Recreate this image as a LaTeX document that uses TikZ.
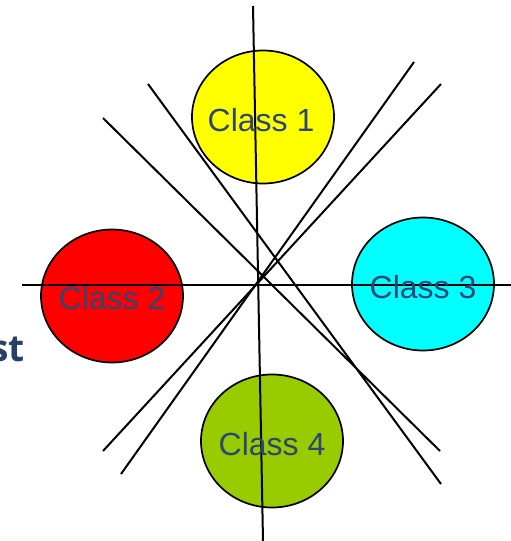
\documentclass[tikz,border=0pt]{standalone}
\usepackage{fontspec}
\setmainfont{Liberation Sans}
\newfontfamily\headfont{Open Sans}
\usetikzlibrary{shapes.geometric}
\definecolor{labelblue}{RGB}{44,70,118}
\definecolor{headblue}{RGB}{38,64,102}
\definecolor{leafgreen}{RGB}{153,204,0}
\definecolor{pureyellow}{RGB}{255,255,0}
\definecolor{purered}{RGB}{255,0,0}
\definecolor{purecyan}{RGB}{0,255,255}
\tikzset{
  classblob/.style={ellipse, draw=black, line width=1.7pt, inner sep=0pt,
    minimum width=142pt, minimum height=133pt},
  classlabel/.style={inner sep=0pt, text=labelblue,
    font=\fontsize{32}{32}\selectfont},
  divider/.style={line width=2pt, black}
}
\begin{document}
\begin{tikzpicture}[x=1pt,y=-1pt]
\useasboundingbox (0,0) rectangle (511,541);

% the four classes
\node[classblob, fill=pureyellow] (c1) at (263,117) {};
\node[classblob, fill=purered] (c2) at (112,296) {};
\node[classblob, fill=purecyan] (c3) at (423,284) {};
\node[classblob, fill=leafgreen] (c4) at (272,441) {};

% end points of the separating lines
\coordinate (v1) at (253,6);   \coordinate (v2) at (263,541);
\coordinate (h1) at (22,285);  \coordinate (h2) at (511,285);
\coordinate (a1) at (148,84);  \coordinate (a2) at (441,484);
\coordinate (b1) at (103,118); \coordinate (b2) at (440,451);
\coordinate (p1) at (414,62);  \coordinate (p2) at (121,474);
\coordinate (q1) at (441,84);  \coordinate (q2) at (103,451);

\draw[divider] (v1) -- (v2);
\draw[divider] (h1) -- (h2);
\draw[divider] (a1) -- (a2);
\draw[divider] (b1) -- (b2);
\draw[divider] (p1) -- (p2);
\draw[divider] (q1) -- (q2);

% class names
\node[classlabel] (t1) at (261,120) {Class 1};
\node[classlabel] (t2) at (112,298) {Class 2};
\node[classlabel] (t3) at (423,287) {Class 3};
\node[classlabel] (t4) at (272,444) {Class 4};

% heading fragment at the left edge
\node[anchor=base east, inner sep=0pt, text=headblue,
  font=\headfont\bfseries\fontsize{37}{37}\selectfont] (head) at (25,361) {st};
\end{tikzpicture}
\end{document}
